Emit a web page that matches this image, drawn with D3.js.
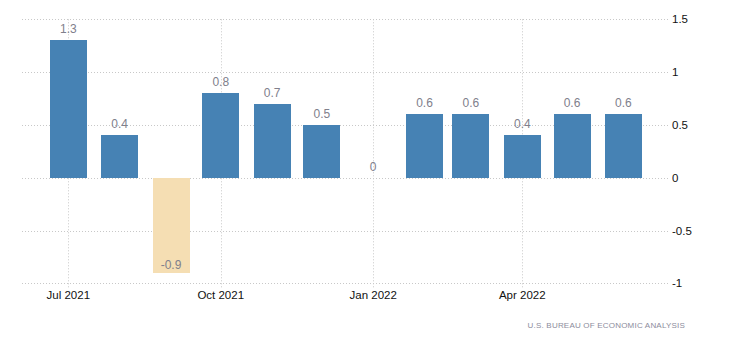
<!DOCTYPE html>
<html>
<head>
<meta charset="utf-8">
<script src="https://cdn.jsdelivr.net/npm/d3@7"></script>
<style>
  html, body { margin: 0; padding: 0; background: #fff; }
  svg { display: block; }
  text { font-family: "Liberation Sans", Arial, sans-serif; }
</style>
</head>
<body>
<svg id="chart" width="730" height="340"></svg>
<script>
const months = ["2021-07","2021-08","2021-09","2021-10","2021-11","2021-12","2022-01","2022-02","2022-03","2022-04","2022-05","2022-06"];
const values = [1.3, 0.4, -0.9, 0.8, 0.7, 0.5, 0, 0.6, 0.6, 0.4, 0.6, 0.6];
const xTickDates = ["2021-07","2021-10","2022-01","2022-04"];
const xTickLabels = ["Jul 2021","Oct 2021","Jan 2022","Apr 2022"];
const yTicks = [-1, -0.5, 0, 0.5, 1, 1.5];
const source = "U.S. BUREAU OF ECONOMIC ANALYSIS";

const parse = d3.timeParse("%Y-%m");
const fmt = d => String(d).replace("−", "-");
const svg = d3.select("#chart");

const plotLeft = 22, plotRight = 670;
const x = d3.scaleTime()
  .domain([parse("2021-07"), parse("2022-04")])
  .range([68.3, 522.3]);
const y = d3.scaleLinear().domain([-1, 1.5]).range([283.3, 19.3]);
const barW = 37;

// horizontal grid
svg.append("g").selectAll("line").data(yTicks).join("line")
  .attr("x1", plotLeft).attr("x2", plotRight)
  .attr("y1", d => Math.round(y(d)) + 0.5).attr("y2", d => Math.round(y(d)) + 0.5)
  .attr("stroke", "#c8c8c8").attr("stroke-width", 1).attr("stroke-dasharray", "1,2");

// vertical grid
svg.append("g").selectAll("line").data(xTickDates).join("line")
  .attr("x1", d => Math.round(x(parse(d))) + 0.5).attr("x2", d => Math.round(x(parse(d))) + 0.5)
  .attr("y1", y(1.5)).attr("y2", y(-1) + 4)
  .attr("stroke", "#c8c8c8").attr("stroke-width", 1).attr("stroke-dasharray", "1,2");

// bars
svg.append("g").selectAll("rect").data(values).join("rect")
  .attr("x", (d, i) => Math.round(x(parse(months[i])) - barW / 2))
  .attr("width", barW)
  .attr("y", d => Math.round(y(Math.max(0, d))))
  .attr("height", d => Math.round(y(Math.min(0, d))) - Math.round(y(Math.max(0, d))))
  .attr("fill", d => d < 0 ? "#F5DEB3" : "#4682B4");

// value labels
svg.append("g").selectAll("text").data(values).join("text")
  .attr("x", (d, i) => x(parse(months[i])))
  .attr("y", d => d < 0 ? y(d) - 4 : y(d) - 7)
  .attr("text-anchor", "middle")
  .attr("font-size", 12)
  .attr("fill", "#80808c")
  .text(fmt);

// x axis labels
svg.append("g").selectAll("text").data(xTickDates).join("text")
  .attr("x", d => x(parse(d)))
  .attr("y", 299)
  .attr("text-anchor", "middle")
  .attr("font-size", 11.5)
  .attr("fill", "#111")
  .text((d, i) => xTickLabels[i]);

// y axis labels
svg.append("g").selectAll("text").data(yTicks).join("text")
  .attr("x", 672)
  .attr("y", d => y(d))
  .attr("dy", "0.35em")
  .attr("font-size", 11.5)
  .attr("fill", "#111")
  .text(fmt);

// source
svg.append("text")
  .attr("x", 685).attr("y", 328)
  .attr("text-anchor", "end")
  .attr("font-size", 8)
  .attr("letter-spacing", "0.2")
  .attr("fill", "#8c8c9c")
  .text(source);
</script>
</body>
</html>
